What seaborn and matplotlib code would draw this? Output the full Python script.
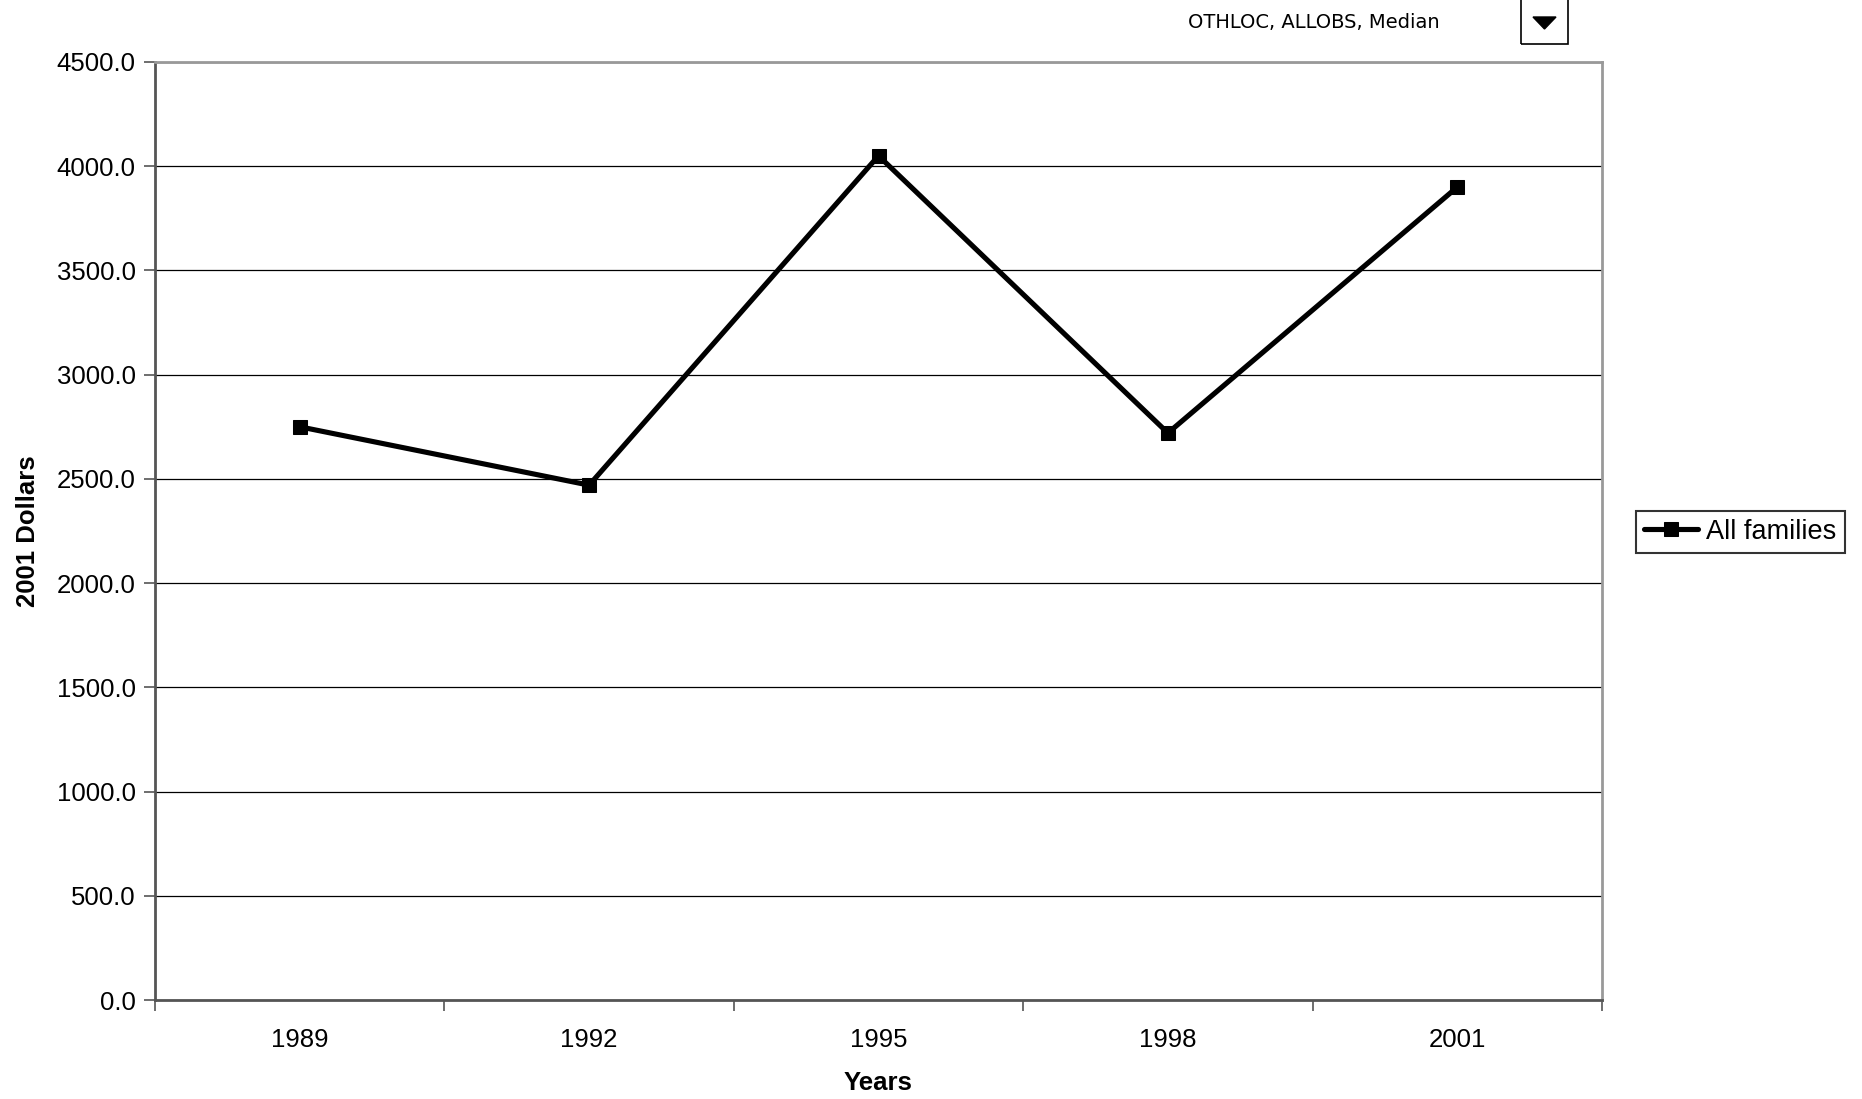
import matplotlib
matplotlib.use("Agg")
import matplotlib.pyplot as plt
import numpy as np
import seaborn as sns
from matplotlib.patches import Rectangle, Polygon

years = ["1989", "1992", "1995", "1998", "2001"]
dollars = [2750.0, 2470.0, 4050.0, 2720.0, 3900.0]
yticks = [0, 500, 1000, 1500, 2000, 2500, 3000, 3500, 4000, 4500]

sns.set_style("white")
plt.rcParams['font.family'] = ['Liberation Sans', 'DejaVu Sans']
plt.rcParams.update({'text.color': 'black', 'axes.labelcolor': 'black',
                     'xtick.labelcolor': 'black', 'ytick.labelcolor': 'black'})

fig = plt.figure(figsize=(18.62, 10.99), dpi=100)
ax = fig.add_axes([155 / 1862, 1 - 1000 / 1099, (1602 - 155) / 1862, (1000 - 62) / 1099])

pos = np.arange(len(years))
sns.lineplot(x=pos, y=dollars, ax=ax, color='black', linewidth=3.7,
             marker='s', markersize=10, markeredgecolor='black',
             label='All families', legend=False)

# Excel-style category axis: ticks between categories
ax.set_xlim(-0.5, len(years) - 0.5)
ax.set_xticks(pos)
ax.set_xticklabels(years, fontsize=18.5)
ax.set_xticks(np.arange(len(years) + 1) - 0.5, minor=True)
ax.tick_params(axis='x', which='major', bottom=True, length=0, pad=20)
ax.tick_params(axis='x', which='minor', bottom=True, length=8, width=1.2,
               color='#555555', direction='out')

ax.set_ylim(0, 4500)
ax.set_yticks(yticks)
ax.set_yticklabels([f"{v:.1f}" for v in yticks], fontsize=18.5)
ax.tick_params(axis='y', left=True, length=8, width=1.2, color='#555555',
               direction='out', pad=6)

ax.yaxis.grid(True, color='black', linewidth=0.9)
ax.set_axisbelow(True)

for side in ['left', 'bottom']:
    ax.spines[side].set_color('#555555')
    ax.spines[side].set_linewidth(2)
for side in ['top', 'right']:
    ax.spines[side].set_color('#999999')
    ax.spines[side].set_linewidth(2)

ax.set_xlabel('Years', fontsize=18.5, fontweight='bold', labelpad=14)
ax.set_ylabel('2001 Dollars', fontsize=18.5, fontweight='bold', labelpad=12)

leg = ax.legend(loc='center left', bbox_to_anchor=(1.0235, 0.499), fontsize=19.5,
                frameon=True, fancybox=False, edgecolor='black', handlelength=2.0,
                handletextpad=0.3, borderpad=0.3, borderaxespad=0)
leg.get_frame().set_linewidth(1.5)

# page-field header at the top
fig.text(1188 / 1862, 1 - 22 / 1099, 'OTHLOC, ALLOBS, Median', fontsize=14,
         family=['DejaVu Sans'], ha='left', va='center')
fig.patches.append(Rectangle((1521 / 1862, 1 - 44 / 1099), 47 / 1862, 50 / 1099,
                             transform=fig.transFigure, fill=False, edgecolor='black',
                             linewidth=1.2))
fig.patches.append(Polygon([(1533 / 1862, 1 - 17 / 1099), (1556 / 1862, 1 - 17 / 1099),
                            (1544.5 / 1862, 1 - 29 / 1099)], closed=True,
                           transform=fig.transFigure, color='black'))

fig.savefig('out.png', dpi=100)
